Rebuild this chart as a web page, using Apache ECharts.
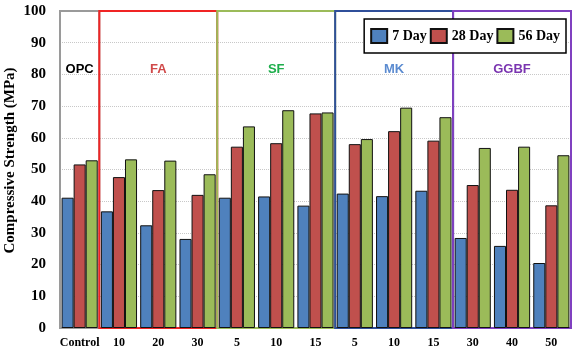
<!DOCTYPE html>
<html>
<head>
<meta charset="utf-8">
<script src="https://cdn.jsdelivr.net/npm/echarts@6/dist/echarts.min.js"></script>
<style>html,body{margin:0;padding:0;background:#fff}#c{width:584px;height:356px}</style>
</head>
<body>
<div id="c"></div>
<script>
const categories = ['Control','10','20','30','5','10','15','5','10','15','30','40','50'];
const day7  = [41.1, 36.8, 32.4, 28.1, 41.1, 41.5, 38.6, 42.4, 41.6, 43.3, 28.4, 25.9, 20.5];
const day28 = [51.6, 47.6, 43.5, 42.0, 57.2, 58.3, 67.7, 58.0, 62.1, 59.1, 45.1, 43.6, 38.7];
const day56 = [52.9, 53.2, 52.8, 48.5, 63.6, 68.7, 68.0, 59.6, 69.5, 66.5, 56.8, 57.2, 54.5];
const groupNames  = ['OPC','FA','SF','MK','GGBF'];
const groupSizes  = [1, 3, 3, 3, 3];
const groupLabelColors = ['#000000','#d04a4a','#1eae4c','#5b8bd0','#7a35b0'];
const groupBoxColors   = ['#9a9a9a','#f02424','#9bbb59','#2f4f9a','#8040c0'];
const yTicks = [0,10,20,30,40,50,60,70,80,90,100];

const serif = '"Liberation Serif","Times New Roman",serif';
const sans = '"Liberation Sans",Arial,sans-serif';

let start = 0;
const areas = groupNames.map((g, i) => {
  const s = start; start += groupSizes[i];
  return [{
    name: g,
    xAxis: s, yAxis: 0,
    itemStyle: {color: 'rgba(0,0,0,0)', borderColor: groupBoxColors[i], borderWidth: 2},
    label: {show: true, position: 'insideTop', distance: 53, color: groupLabelColors[i],
            fontFamily: sans, fontWeight: 'bold', fontSize: 13}
  }, {xAxis: start, yAxis: 100}];
});

const chart = echarts.init(document.getElementById('c'), null, {renderer: 'canvas'});
const barStyle = c => ({color: c, borderColor: '#111', borderWidth: 1});
chart.setOption({
  animation: false,
  backgroundColor: '#fff',
  grid: {left: 60, right: 13, top: 11, bottom: 28, containLabel: false, outerBoundsMode: 'none'},
  legend: {
    data: ['7 Day','28 Day','56 Day'],
    right: 18, top: 19,
    itemWidth: 16, itemHeight: 14, itemGap: 3,
    padding: [9, 6, 9, 6],
    borderColor: '#000', borderWidth: 1.5, backgroundColor: '#fff',
    icon: 'rect',
    textStyle: {fontFamily: serif, fontWeight: 'bold', fontSize: 14, color: '#000'}
  },
  xAxis: [{
    type: 'category', data: categories,
    axisLine: {show: false}, axisTick: {show: false},
    axisLabel: {interval: 0, fontFamily: serif, fontWeight: 'bold', fontSize: 12, color: '#000', margin: 9}
  }, {
    type: 'value', min: 0, max: categories.length, show: false
  }],
  yAxis: {
    type: 'value', min: yTicks[0], max: yTicks[yTicks.length-1], interval: 10,
    name: 'Compressive Strength (MPa)', nameLocation: 'middle', nameGap: 42, nameMoveOverlap: false,
    nameTextStyle: {fontFamily: serif, fontWeight: 'bold', fontSize: 15, color: '#000', padding: [0, 0, 0, 18]},
    axisLine: {show: false}, axisTick: {show: false},
    axisLabel: {fontFamily: serif, fontWeight: 'bold', fontSize: 15, color: '#000', margin: 14},
    splitLine: {lineStyle: {type: 'dotted', color: '#c8c8c8', width: 1}}
  },
  series: [
    {name: '7 Day', type: 'bar', data: day7, barGap: '0%', barCategoryGap: '8%', itemStyle: barStyle('#4f81bd'), z: 3},
    {name: '28 Day', type: 'bar', data: day28, barGap: '0%', barCategoryGap: '8%', itemStyle: barStyle('#c0504d'), z: 3},
    {name: '56 Day', type: 'bar', data: day56, barGap: '0%', barCategoryGap: '8%', itemStyle: barStyle('#9bbb59'), z: 3},
    {name: 'groups', type: 'scatter', xAxisIndex: 1, data: [], z: 1,
     markArea: {silent: true, data: areas}}
  ]
});
</script>
</body>
</html>
